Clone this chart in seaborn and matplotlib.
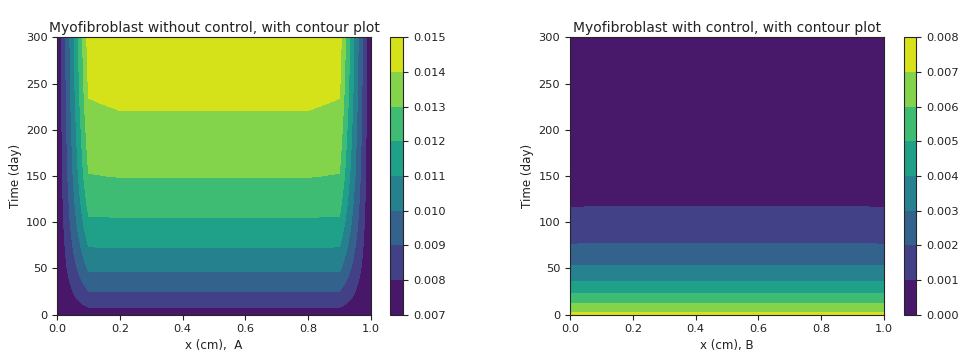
import numpy as np
import seaborn as sns
import matplotlib
matplotlib.use('Agg')
import matplotlib.pyplot as plt

# grid
x_cm = [0.0, 0.1, 0.2, 0.3, 0.4, 0.5, 0.6, 0.7, 0.8, 0.9, 1.0]
days = [0, 2, 4, 6, 8, 10, 13, 16, 20, 25, 30, 35, 40, 50, 60, 70, 80, 90,
        100, 115, 130, 150, 170, 190, 210, 230, 250, 275, 300]

# A: myofibroblast without control
a_edge = [0.00702] * len(days)
a_near = [0.00702, 0.00728, 0.00755, 0.00778, 0.00800, 0.00814, 0.00833, 0.00851,
          0.00874, 0.00897, 0.00921, 0.00945, 0.00969, 0.01015, 0.01052, 0.01089,
          0.01122, 0.01153, 0.01184, 0.01221, 0.01254, 0.01296, 0.01323, 0.01348,
          0.01372, 0.01396, 0.01414, 0.01430, 0.01445]
a_mid = [0.00702, 0.00730, 0.00757, 0.00780, 0.00801, 0.00815, 0.00834, 0.00852,
         0.00875, 0.00897, 0.00921, 0.00945, 0.00969, 0.01016, 0.01054, 0.01091,
         0.01124, 0.01155, 0.01186, 0.01226, 0.01262, 0.01303, 0.01334, 0.01362,
         0.01387, 0.01411, 0.01431, 0.01453, 0.01473]

# B: myofibroblast with control
b_edge = [0.00740, 0.00716, 0.00691, 0.00669, 0.00646, 0.00625, 0.00595, 0.00566,
          0.00529, 0.00487, 0.00444, 0.00407, 0.00374, 0.00316, 0.00266, 0.00222,
          0.00187, 0.00158, 0.00133, 0.00101, 0.00078, 0.00055, 0.00039, 0.00028,
          0.00020, 0.00014, 0.00010, 0.00007, 0.00005]
b_mid = [0.00740, 0.00716, 0.00691, 0.00669, 0.00646, 0.00625, 0.00595, 0.00566,
         0.00529, 0.00487, 0.00444, 0.00408, 0.00375, 0.00318, 0.00268, 0.00225,
         0.00190, 0.00161, 0.00136, 0.00104, 0.00080, 0.00057, 0.00040, 0.00029,
         0.00021, 0.00015, 0.00011, 0.00007, 0.00005]

levels_a = [0.007, 0.008, 0.009, 0.010, 0.011, 0.012, 0.013, 0.014, 0.015]
levels_b = [0.000, 0.001, 0.002, 0.003, 0.004, 0.005, 0.006, 0.007, 0.008]


def build_grid(edge, near, mid):
    cols = [edge, near] + [mid] * 7 + [near, edge]
    return np.array(cols).T


sns.set_style('ticks')
plt.rcParams['font.family'] = ['DejaVu Sans']
plt.rcParams['text.color'] = '#222222'
plt.rcParams['axes.labelcolor'] = '#222222'
plt.rcParams['xtick.color'] = '#222222'
plt.rcParams['ytick.color'] = '#222222'
cmap = sns.color_palette('viridis', as_cmap=True)

X, T = np.meshgrid(x_cm, days)
grid_a = build_grid(a_edge, a_near, a_mid)
grid_b = build_grid(b_edge, b_mid, b_mid)

fig = plt.figure(figsize=(9.6, 3.54), dpi=100)
ax1 = fig.add_axes([0.0597, 0.111, 0.3265, 0.7836])
cax1 = fig.add_axes([0.4063, 0.111, 0.0139, 0.7836])
ax2 = fig.add_axes([0.5937, 0.111, 0.3271, 0.7836])
cax2 = fig.add_axes([0.9417, 0.111, 0.0125, 0.7836])

panels = [
    (ax1, cax1, grid_a, levels_a, 'Myofibroblast without control, with contour plot', 'x (cm),  A'),
    (ax2, cax2, grid_b, levels_b, 'Myofibroblast with control, with contour plot', 'x (cm), B'),
]
for ax, cax, grid, levels, title, xlabel in panels:
    cs = ax.contourf(X, T, grid, levels=levels, cmap=cmap)
    ax.set_xlim(0, 1)
    ax.set_ylim(0, 300)
    ax.set_xticks([0.0, 0.2, 0.4, 0.6, 0.8, 1.0])
    ax.set_yticks([0, 50, 100, 150, 200, 250, 300])
    ax.set_title(title, fontsize=10, pad=4)
    ax.set_xlabel(xlabel, fontsize=8.6, labelpad=3)
    ax.set_ylabel('Time (day)', fontsize=8.6, labelpad=3)
    ax.tick_params(labelsize=8.2, length=3.5, pad=3.5)
    cb = fig.colorbar(cs, cax=cax)
    cb.set_ticks(levels)
    cb.ax.set_yticklabels([f'{v:.3f}' for v in levels])
    cb.ax.tick_params(labelsize=8.2, length=3.5, pad=3.5)

fig.savefig('out.png', dpi=100)
